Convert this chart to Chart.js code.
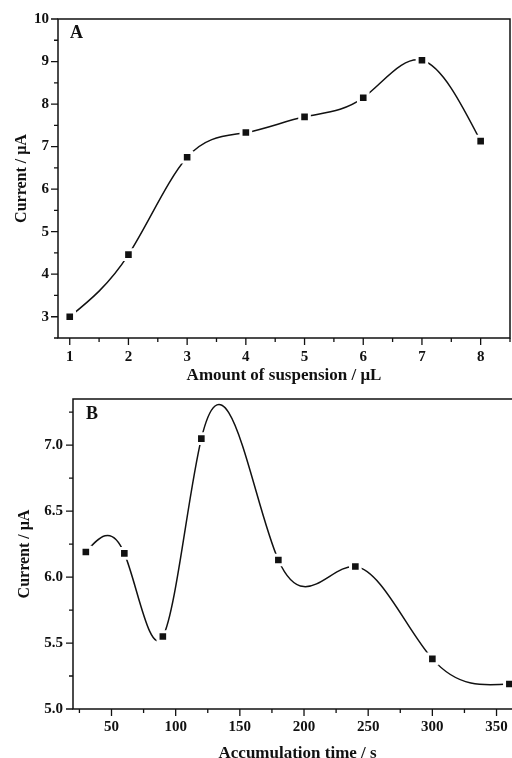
<!DOCTYPE html>
<html>
<head>
<meta charset="utf-8">
<script src="https://cdn.jsdelivr.net/npm/chart.js@4.4.0/dist/chart.umd.min.js"></script>
<style>
  html, body { margin: 0; padding: 0; background: #fff; overflow: hidden; width: 512px; height: 758px; }
  .box { position: absolute; left: 0; }
  #wrapA { top: 0; width: 520px; height: 390px; }
  #wrapB { top: 380px; width: 532px; height: 390px; }
</style>
</head>
<body>
<div class="box" id="wrapA"><canvas id="chartA"></canvas></div>
<div class="box" id="wrapB"><canvas id="chartB"></canvas></div>
<script>
// panel A
const amounts = [1, 2, 3, 4, 5, 6, 7, 8];
const currentA = [3.0, 4.46, 6.75, 7.33, 7.70, 8.15, 9.03, 7.13];
const xTicksA = [1, 2, 3, 4, 5, 6, 7, 8];
const yTicksA = [3, 4, 5, 6, 7, 8, 9, 10];

// panel B
const times = [30, 60, 90, 120, 180, 240, 300, 360];
const currentB = [6.19, 6.18, 5.55, 7.05, 6.13, 6.08, 5.38, 5.19];
const xTicksB = [50, 100, 150, 200, 250, 300, 350];
const yTicksB = [5.0, 5.5, 6.0, 6.5, 7.0];

const FONT = "'Liberation Serif', 'Times New Roman', serif";
const INK = "#111";

// majors + a minor tick halfway between each pair
function withMinors(majors) {
    return function (scale) {
        const step = majors[1] - majors[0];
        const out = [];
        for (let i = -1; i < majors.length; i++) {
            const base = i < 0 ? majors[0] - step : majors[i];
            if (i >= 0) out.push({ value: base, major: true });
            out.push({ value: base + step / 2, major: false });
        }
        scale.ticks = out.filter((t) => t.value >= scale.min - 1e-9 && t.value <= scale.max + 1e-9);
    };
}

// natural cubic spline through the points, like the original plot
const splinePlugin = {
    id: "spline",
    beforeDatasetDraw(chart, args) {
        const meta = args.meta;
        meta.dataset.updateControlPoints(chart.chartArea, meta.iScale.axis);
        const pts = meta.data;
        const n = pts.length - 1;
        const x = pts.map((p) => p.x);
        const y = pts.map((p) => p.y);
        const h = [];
        for (let i = 0; i < n; i++) h.push(x[i + 1] - x[i]);
        // tridiagonal solve for second derivatives
        const M = new Array(n + 1).fill(0);
        const a = [], b = [], c = [], d = [];
        for (let i = 1; i < n; i++) {
            a.push(h[i - 1]);
            b.push(2 * (h[i - 1] + h[i]));
            c.push(h[i]);
            d.push(6 * ((y[i + 1] - y[i]) / h[i] - (y[i] - y[i - 1]) / h[i - 1]));
        }
        const m = b.length;
        for (let i = 1; i < m; i++) {
            const w = a[i] / b[i - 1];
            b[i] -= w * c[i - 1];
            d[i] -= w * d[i - 1];
        }
        const sol = new Array(m).fill(0);
        for (let i = m - 1; i >= 0; i--) {
            sol[i] = (d[i] - (i < m - 1 ? c[i] * sol[i + 1] : 0)) / b[i];
        }
        for (let i = 1; i < n; i++) M[i] = sol[i - 1];
        const slope = [];
        for (let i = 0; i < n; i++) {
            slope.push((y[i + 1] - y[i]) / h[i] - h[i] * (2 * M[i] + M[i + 1]) / 6);
        }
        slope.push((y[n] - y[n - 1]) / h[n - 1] + h[n - 1] * (M[n - 1] + 2 * M[n]) / 6);
        for (let i = 0; i <= n; i++) {
            if (i > 0) {
                pts[i].cp1x = x[i] - h[i - 1] / 3;
                pts[i].cp1y = y[i] - slope[i] * h[i - 1] / 3;
            }
            if (i < n) {
                pts[i].cp2x = x[i] + h[i] / 3;
                pts[i].cp2y = y[i] + slope[i] * h[i] / 3;
            }
        }
    },
};

// frame, outward tick marks and the panel letter
const framePlugin = {
    id: "frame",
    afterDraw(chart, args, opts) {
        const { ctx, chartArea: ca } = chart;
        ctx.save();
        ctx.strokeStyle = INK;
        ctx.lineWidth = 1.5;
        ctx.strokeRect(ca.left, ca.top, ca.right - ca.left, ca.bottom - ca.top);
        const xs = chart.scales.x, ys = chart.scales.y;
        ctx.lineWidth = 1.3;
        ctx.beginPath();
        xs.ticks.forEach((t) => {
            const px = xs.getPixelForValue(t.value);
            ctx.moveTo(px, ca.bottom);
            ctx.lineTo(px, ca.bottom + (t.major ? 7 : 4));
        });
        ys.ticks.forEach((t) => {
            const py = ys.getPixelForValue(t.value);
            ctx.moveTo(ca.left, py);
            ctx.lineTo(ca.left - (t.major ? 7 : 4), py);
        });
        ctx.stroke();
        ctx.fillStyle = INK;
        ctx.font = "bold 18px " + FONT;
        ctx.textBaseline = "middle";
        ctx.fillText(opts.letter, ca.left + opts.dx, ca.top + opts.dy);
        ctx.restore();
    },
};

function makeChart(id, xs, ys, cfg) {
    return new Chart(document.getElementById(id), {
        type: "line",
        data: {
            labels: xs,
            datasets: [
                {
                    data: xs.map((v, i) => ({ x: v, y: ys[i] })),
                    borderColor: INK,
                    borderWidth: 1.5,
                    tension: 0.4,
                    pointStyle: "rect",
                    pointRadius: 6.8,
                    pointBackgroundColor: INK,
                    pointBorderColor: "#fff",
                    pointBorderWidth: 3,
                    clip: false,
                },
            ],
        },
        options: {
            responsive: true,
            maintainAspectRatio: false,
            animation: false,
            layout: { padding: cfg.padding },
            plugins: {
                legend: { display: false },
                tooltip: { enabled: false },
                frame: { letter: cfg.letter, dx: cfg.letterDx, dy: cfg.letterDy },
            },
            scales: {
                x: {
                    type: "linear",
                    min: cfg.xMin,
                    max: cfg.xMax,
                    afterBuildTicks: withMinors(cfg.xTicks),
                    afterFit: (s) => { s.height = cfg.xHeight; },
                    grid: { display: false, drawTicks: false },
                    border: { display: false },
                    ticks: {
                        autoSkip: false,
                        maxRotation: 0,
                        padding: cfg.xPad,
                        color: INK,
                        font: { family: FONT, size: 15, weight: "bold" },
                        callback: (v, i, ticks) => (ticks[i].major ? String(v) : ""),
                    },
                    title: {
                        display: true,
                        text: cfg.xTitle,
                        color: INK,
                        font: { family: FONT, size: 17, weight: "bold" },
                        padding: { top: 0, bottom: cfg.xTitlePad },
                    },
                },
                y: {
                    min: cfg.yMin,
                    max: cfg.yMax,
                    afterBuildTicks: withMinors(cfg.yTicks),
                    afterFit: (s) => { s.width = cfg.yWidth; },
                    grid: { display: false, drawTicks: false },
                    border: { display: false },
                    ticks: {
                        autoSkip: false,
                        padding: cfg.yPad,
                        color: INK,
                        font: { family: FONT, size: 15, weight: "bold" },
                        callback: (v, i, ticks) => (ticks[i].major ? cfg.fmt(v) : ""),
                    },
                    title: {
                        display: true,
                        text: "Current / \u03bcA",
                        color: INK,
                        font: { family: FONT, size: 16, weight: "bold" },
                        padding: { top: cfg.yTitlePad, bottom: 0 },
                    },
                },
            },
        },
        plugins: [splinePlugin, framePlugin],
    });
}

makeChart("chartA", amounts, currentA, {
    padding: { top: 19, right: 2, left: 0, bottom: 0 },
    xMin: 0.8, xMax: 8.5, xTicks: xTicksA,
    yMin: 2.5, yMax: 10, yTicks: yTicksA,
    xHeight: 52, yWidth: 58,
    xPad: 10, yPad: 9, xTitlePad: 4, yTitlePad: 12,
    xTitle: "Amount of suspension / \u03bcL",
    fmt: (v) => String(v),
    letter: "A", letterDx: 12, letterDy: 14,
});

makeChart("chartB", times, currentB, {
    padding: { top: 14, right: 2, left: 0, bottom: 0 },
    xMin: 20, xMax: 370, xTicks: xTicksB,
    yMin: 5.0, yMax: 7.35, yTicks: yTicksB,
    xHeight: 61, yWidth: 73,
    xPad: 9, yPad: 10, xTitlePad: 6, yTitlePad: 15,
    xTitle: "Accumulation time / s",
    fmt: (v) => v.toFixed(1),
    letter: "B", letterDx: 13, letterDy: 15,
});
</script>
</body>
</html>
